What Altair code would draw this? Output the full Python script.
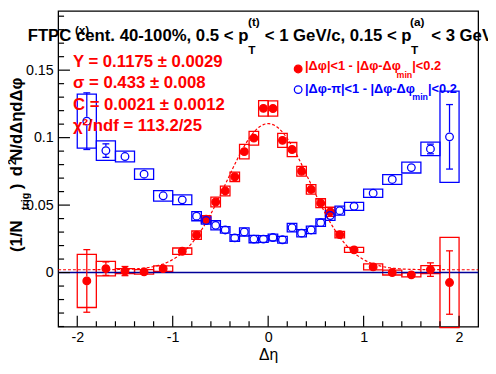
import altair as alt
import numpy as np
import pandas as pd

# ---------------- data ----------------
eta = [-1.9, -1.7, -1.5, -1.3, -1.1, -0.9, -0.75, -0.65, -0.55, -0.45, -0.35, -0.25, -0.15, -0.05,
       0.05, 0.15, 0.25, 0.35, 0.45, 0.55, 0.65, 0.75, 0.9, 1.1, 1.3, 1.5, 1.7, 1.9]
bin_width = [0.2, 0.2, 0.2, 0.2, 0.2, 0.2, 0.1, 0.1, 0.1, 0.1, 0.1, 0.1, 0.1, 0.1,
             0.1, 0.1, 0.1, 0.1, 0.1, 0.1, 0.1, 0.1, 0.2, 0.2, 0.2, 0.2, 0.2, 0.2]

near_y = [-0.0062, 0.0029, 0.0011, 0.0005, 0.0029, 0.0158, 0.0277, 0.0395, 0.0523, 0.0605, 0.0710,
          0.0896, 0.0996, 0.1217, 0.1216, 0.0980, 0.0912, 0.0751, 0.0616, 0.0514, 0.0450, 0.0281,
          0.0168, 0.0042, 0.0000, -0.0017, 0.0022, -0.0074]
near_stat = [0.0232, 0.0050, 0.0034, 0.0015, 0.0015, 0.0015, 0.0014, 0.0014, 0.0014, 0.0014, 0.0014,
             0.0014, 0.0014, 0.0014, 0.0014, 0.0014, 0.0014, 0.0014, 0.0014, 0.0014, 0.0014, 0.0014,
             0.0015, 0.0015, 0.0015, 0.0030, 0.0050, 0.0235]
near_sys = [0.0197, 0.0054, 0.0018, 0.0016, 0.0020, 0.0024, 0.0031, 0.0027, 0.0036, 0.0036, 0.0035,
            0.0054, 0.0051, 0.0057, 0.0057, 0.0052, 0.0052, 0.0036, 0.0035, 0.0033, 0.0034, 0.0024,
            0.0018, 0.0022, 0.0018, 0.0015, 0.0030, 0.0334]

away_y = [0.1122, 0.0904, 0.0860, 0.0729, 0.0569, 0.0539, 0.0418, 0.0386, 0.0350, 0.0316, 0.0257,
          0.0301, 0.0248, 0.0248, 0.0260, 0.0243, 0.0333, 0.0292, 0.0316, 0.0370, 0.0423, 0.0459,
          0.0491, 0.0588, 0.0690, 0.0778, 0.0916, 0.1006]
away_stat = [0.0210, 0.0050, 0.0020, 0.0013, 0.0013, 0.0013, 0.0012, 0.0012, 0.0012, 0.0012, 0.0012,
             0.0012, 0.0012, 0.0012, 0.0012, 0.0012, 0.0012, 0.0012, 0.0012, 0.0012, 0.0012, 0.0012,
             0.0013, 0.0013, 0.0013, 0.0020, 0.0036, 0.0239]
away_sys = [0.0200, 0.0072, 0.0040, 0.0039, 0.0039, 0.0036, 0.0034, 0.0027, 0.0034, 0.0024, 0.0025,
            0.0030, 0.0027, 0.0025, 0.0025, 0.0025, 0.0032, 0.0027, 0.0028, 0.0027, 0.0036, 0.0034,
            0.0030, 0.0030, 0.0036, 0.0040, 0.0050, 0.0338]

# Gaussian + constant fit shown on the chart
fit_Y, fit_sigma, fit_C = 0.1175, 0.433, 0.0021

series_names = ["|Δφ|<1", "|Δφ-π|<1"]
series_colors = ["#ff0000", "#0000ff"]

x_ticks_major = [-2, -1, 0, 1, 2]
x_ticks_minor = [-1.8, -1.6, -1.4, -1.2, -0.8, -0.6, -0.4, -0.2, 0.2, 0.4, 0.6, 0.8,
                 1.2, 1.4, 1.6, 1.8]
y_ticks_major = [0, 0.05, 0.1, 0.15]
y_ticks_minor = [-0.04, -0.03, -0.02, -0.01, 0.01, 0.02, 0.03, 0.04, 0.06, 0.07, 0.08, 0.09,
                 0.11, 0.12, 0.13, 0.14, 0.16, 0.17, 0.18, 0.19]

title_parts = ["FTPC cent. 40-100%, 0.5 < p", "(t)", "T", "< 1 GeV/c, 0.15 < p", "(a)", "T", "< 3 GeV/c"]
panel_tag = "(x)"
fit_lines = ["Y = 0.1175 ± 0.0029", "σ = 0.433 ± 0.008", "C = 0.0021 ± 0.0012", "χ²/ndf = 113.2/25"]
legend_near = ["|Δφ|<1 - |Δφ-Δφ", "min", "|<0.2"]
legend_away = ["|Δφ-π|<1 - |Δφ-Δφ", "min", "|<0.2"]
ylabel_parts = ["(1/N", "trig", ")", "d", "2", "N/dΔηdΔφ"]
xlabel = "Δη"

# ---------------- tables ----------------
rows = []
for name, ys_, st_, sy_ in [(series_names[0], near_y, near_stat, near_sys),
                            (series_names[1], away_y, away_stat, away_sys)]:
    for e, w, v, s, b in zip(eta, bin_width, ys_, st_, sy_):
        rows.append(dict(series=name, eta=e, lo=e - w / 2, hi=e + w / 2, y=v,
                         ylo=v - s, yhi=v + s, slo=v - b, shi=v + b, stat=s))
df = pd.DataFrame(rows)

fx = np.linspace(-2.2, 2.2, 441)
fit_df = pd.DataFrame({"x": fx,
                       "y": fit_C + fit_Y / (fit_sigma * np.sqrt(2 * np.pi)) * np.exp(-fx ** 2 / (2 * fit_sigma ** 2))})

# ---------------- layout ----------------
W, H = 427, 321
xs = alt.Scale(domain=[-2.2, 2.2], nice=False, zero=False)
ys = alt.Scale(domain=[-0.0401, 0.1939], nice=False, zero=False)
FONT = "Liberation Sans"

x_axis = alt.Axis(title=xlabel, values=x_ticks_major, ticks=False, tickSize=0, domain=False, grid=False,
                  labelFont=FONT, labelFontSize=14.5, labelColor="black", labelPadding=4,
                  labelExpr="(datum.value < 0 ? '-' : '') + abs(datum.value)", labelFlush=False,
                  titleFont=FONT, titleFontSize=16, titleFontWeight="normal", titleColor="black",
                  titlePadding=3)
y_axis = alt.Axis(title=None, values=y_ticks_major, ticks=False, tickSize=0, domain=False, grid=False,
                  labelFont=FONT, labelFontSize=14.5, labelColor="black", labelPadding=5, format="~g")

X = lambda f: alt.X(f, type="quantitative", scale=xs, axis=x_axis)
Y = lambda f: alt.Y(f, type="quantitative", scale=ys, axis=y_axis)

layers = []

# systematic boxes
for name, col in zip(series_names, series_colors):
    layers.append(alt.Chart(df).transform_filter(alt.datum.series == name)
                  .mark_rect(fill="transparent", stroke=col, strokeWidth=1.3)
                  .encode(x=X("lo"), x2="hi", y=Y("slo"), y2="shi"))

# fit curve
layers.append(alt.Chart(fit_df).mark_line(color="#ff0000", strokeWidth=1.2, strokeDash=[3, 2])
              .encode(x=X("x"), y=Y("y")))

# zero line
layers.append(alt.Chart(pd.DataFrame({"v": [0]})).mark_rule(color="#000099", strokeWidth=1.5)
              .encode(y=Y("v")))

# statistical error bars (drawn outside the marker, with end caps)
for name, col in zip(series_names, series_colors):
    base = alt.Chart(df).transform_filter(alt.datum.series == name).transform_filter("datum.stat > 0.0033")
    layers.append(base.mark_rule(color=col, strokeWidth=1.3, y2Offset=-4.5).encode(x=X("eta"), y=Y("yhi"), y2="y"))
    layers.append(base.mark_rule(color=col, strokeWidth=1.3, y2Offset=4.5).encode(x=X("eta"), y=Y("ylo"), y2="y"))
    layers.append(base.mark_tick(color=col, orient="horizontal", size=7, thickness=1.3, opacity=1)
                  .encode(x=X("eta"), y=Y("yhi")))
    layers.append(base.mark_tick(color=col, orient="horizontal", size=7, thickness=1.3, opacity=1)
                  .encode(x=X("eta"), y=Y("ylo")))

# markers with legend
leg = alt.Legend(orient="none", legendX=239, legendY=54, title=None, labelExpr="''",
                 symbolSize=60, symbolStrokeWidth=1.3, symbolType="circle", rowPadding=7, padding=0)
layers.append(alt.Chart(df).mark_point(shape="circle", size=60, strokeWidth=1.3, opacity=1)
              .encode(x=X("eta"), y=Y("y"),
                      fill=alt.Fill("series:N", scale=alt.Scale(domain=series_names, range=["#ff0000", "transparent"]), legend=leg),
                      stroke=alt.Stroke("series:N", scale=alt.Scale(domain=series_names, range=series_colors), legend=leg)))

# axis ticks (inside the frame)
layers.append(alt.Chart(pd.DataFrame({"v": y_ticks_major})).mark_rule(color="black", strokeWidth=1.2)
              .encode(y=Y("v"), x=alt.value(0), x2=alt.value(12)))
layers.append(alt.Chart(pd.DataFrame({"v": y_ticks_minor})).mark_rule(color="black", strokeWidth=1.2)
              .encode(y=Y("v"), x=alt.value(0), x2=alt.value(6)))
layers.append(alt.Chart(pd.DataFrame({"v": x_ticks_major})).mark_rule(color="black", strokeWidth=1.2)
              .encode(x=X("v"), y=alt.value(H), y2=alt.value(H - 11)))
layers.append(alt.Chart(pd.DataFrame({"v": x_ticks_minor})).mark_rule(color="black", strokeWidth=1.2)
              .encode(x=X("v"), y=alt.value(H), y2=alt.value(H - 5.5)))


def txt(t, px, py, size, color="black", weight="bold", angle=0, align="left"):
    return (alt.Chart(pd.DataFrame({"t": [t]}))
            .mark_text(font=FONT, fontSize=size, fontWeight=weight, color=color, angle=angle,
                       align=align, baseline="alphabetic")
            .encode(text="t:N", x=alt.value(px), y=alt.value(py)))


# title pieces
layers += [
    txt(title_parts[0], -31, 30.5, 17),
    txt(title_parts[1], 193, 15, 12),
    txt(title_parts[2], 193.3, 43.3, 12),
    txt(title_parts[3], 210, 30.5, 17),
    txt(title_parts[4], 357.7, 15, 12),
    txt(title_parts[5], 358.7, 43.3, 12),
    txt(title_parts[6], 379.3, 30.5, 17),
    txt(panel_tag, 17, 23, 12),
]
# fit results
for t, py in zip(fit_lines, [57, 78.3, 100.3, 122.5]):
    layers.append(txt(t, 15, py, 17, color="#ff0000"))
# legend labels
layers += [
    txt(legend_near[0], 251, 60.5, 13, color="#ff0000"),
    txt(legend_near[1], 344, 68, 9, color="#ff0000"),
    txt(legend_near[2], 360, 60.5, 13, color="#ff0000"),
    txt(legend_away[0], 251, 83, 13, color="#0000ff"),
    txt(legend_away[1], 360, 90.5, 9, color="#0000ff"),
    txt(legend_away[2], 376, 83, 13, color="#0000ff"),
]
# rotated y-axis title pieces
layers += [
    txt(ylabel_parts[0], -36.5, 229, 17, angle=270, align="center"),
    txt(ylabel_parts[1], -30, 193.5, 11, angle=270, align="center"),
    txt(ylabel_parts[2], -36.5, 178.5, 17, angle=270, align="center"),
    txt(ylabel_parts[3], -36.5, 163, 17, angle=270, align="center"),
    txt(ylabel_parts[4], -42.5, 153.5, 11, angle=270, align="center"),
    txt(ylabel_parts[5], -36.5, 110, 17, angle=270, align="center"),
]

chart = (alt.layer(*layers)
         .properties(width=W, height=H, autosize=alt.AutoSizeParams(type="none"),
                     padding={"left": 51, "top": 0, "right": 10, "bottom": 37})
         .configure(font=FONT)
         .configure_view(stroke="black", strokeWidth=1.3))

chart.save("out.html", embed_options={"renderer": "svg", "actions": False})
